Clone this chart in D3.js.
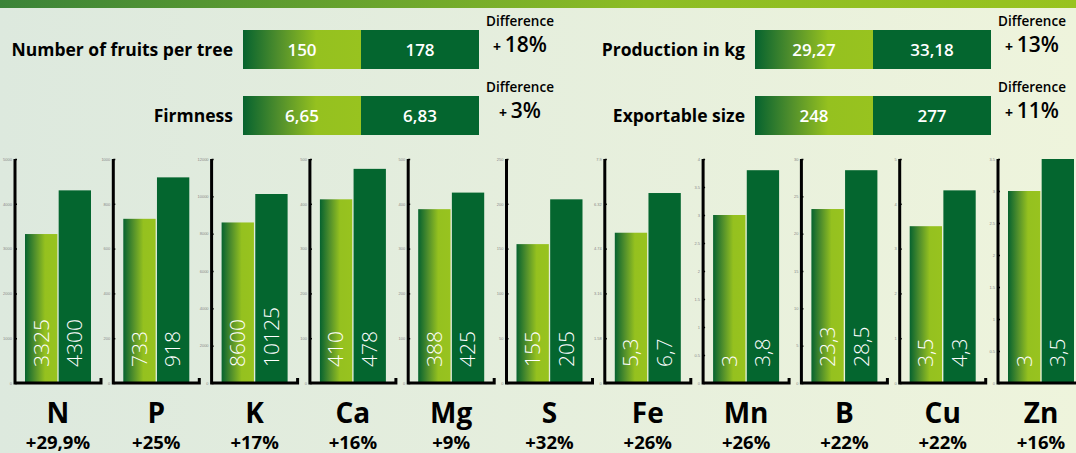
<!DOCTYPE html>
<html>
<head>
<meta charset="utf-8">
<script src="https://cdn.jsdelivr.net/npm/d3@7"></script>
<style>
  body { margin: 0; overflow: hidden; }
  svg { display: block; font-family: "Open Sans", "DejaVu Sans", sans-serif; }
</style>
</head>
<body>
<div id="chart"></div>
<script>
var width = 1076;
var height = 453;
var lightGreen = '#95c11f';
var darkGreen = '#04662f';

// top summary boxes
var topLabels = ['Number of fruits per tree', 'Firmness', 'Production in kg', 'Exportable size'];
var topBefore = ['150', '6,65', '29,27', '248'];
var topAfter = ['178', '6,83', '33,18', '277'];
var topDiff = ['18%', '3%', '13%', '11%'];

// nutrient panels
var elements = ['N', 'P', 'K', 'Ca', 'Mg', 'S', 'Fe', 'Mn', 'B', 'Cu', 'Zn'];
var before = [3325, 733, 8600, 410, 388, 155, 5.3, 3, 23.3, 3.5, 3];
var after = [4300, 918, 10125, 478, 425, 205, 6.7, 3.8, 28.5, 4.3, 3.5];
var beforeLabels = ['3325', '733', '8600', '410', '388', '155', '5,3', '3', '23,3', '3,5', '3'];
var afterLabels = ['4300', '918', '10125', '478', '425', '205', '6,7', '3,8', '28,5', '4,3', '3,5'];
var diffs = ['+29,9%', '+25%', '+17%', '+16%', '+9%', '+32%', '+26%', '+26%', '+22%', '+22%', '+16%'];
var axisMax = [5000, 1000, 12000, 500, 500, 250, 7.9, 4, 30, 5, 3.5];
var tickCount = [5, 5, 6, 5, 5, 5, 5, 8, 6, 5, 7];

var svg = d3.select('#chart').append('svg')
      .attr('width', width)
      .attr('height', height);

var defs = svg.append('defs');
var bg = defs.append('linearGradient').attr('id', 'bg');
bg.append('stop').attr('offset', 0).attr('stop-color', '#dde9de');
bg.append('stop').attr('offset', 1).attr('stop-color', '#eef4dc');

var band = defs.append('linearGradient').attr('id', 'band');
band.append('stop').attr('offset', 0).attr('stop-color', '#3a8338');
band.append('stop').attr('offset', 0.6).attr('stop-color', '#8dbd25');
band.append('stop').attr('offset', 1).attr('stop-color', '#98c31f');

var fade = defs.append('linearGradient').attr('id', 'fade');
fade.append('stop').attr('offset', 0).attr('stop-color', '#06632f');
fade.append('stop').attr('offset', 0.3).attr('stop-color', '#4f8e2c');
fade.append('stop').attr('offset', 0.62).attr('stop-color', lightGreen);
fade.append('stop').attr('offset', 1).attr('stop-color', '#98c31f');

svg.append('rect').attr('width', width).attr('height', height).attr('fill', 'url(#bg)');
svg.append('rect').attr('width', width).attr('height', 8).attr('fill', 'url(#band)');

// top boxes: two columns, two rows
var colX = [243, 755];
var rowY = [30, 96];
var boxW = 236, boxH = 39;
var halves = d3.scaleBand().domain(['before', 'after']).range([0, boxW]);

topLabels.forEach(function(label, i) {
      var col = i < 2 ? 0 : 1;
      var row = i % 2;
      var g = svg.append('g')
            .attr('transform', 'translate(' + colX[col] + ',' + rowY[row] + ')');

      g.append('text')
            .attr('x', -10)
            .attr('y', boxH / 2 + 6)
            .style('text-anchor', 'end')
            .style('font-size', '17.5px')
            .style('font-weight', 'bold')
            .text(label);

      g.append('rect')
            .attr('x', halves('before'))
            .attr('width', halves.bandwidth())
            .attr('height', boxH)
            .attr('fill', 'url(#fade)');
      g.append('rect')
            .attr('x', halves('after'))
            .attr('width', halves.bandwidth())
            .attr('height', boxH)
            .attr('fill', darkGreen);

      [['before', topBefore[i]], ['after', topAfter[i]]].forEach(function(p) {
            g.append('text')
                  .attr('x', halves(p[0]) + halves.bandwidth() / 2)
                  .attr('y', boxH / 2 + 6)
                  .style('text-anchor', 'middle')
                  .style('font-size', '17px')
                  .style('font-weight', '600')
                  .style('fill', '#fff')
                  .text(p[1]);
      });

      var dx = boxW + 41;
      g.append('text')
            .attr('x', dx)
            .attr('y', -4)
            .style('text-anchor', 'middle')
            .style('font-size', '13.5px')
            .style('font-weight', '600')
            .text('Difference');
      var pct = g.append('text')
            .attr('x', dx)
            .attr('y', 22)
            .style('text-anchor', 'middle')
            .style('font-weight', '600');
      pct.append('tspan').style('font-size', '14px').style('font-weight', 'bold').text('+ ');
      pct.append('tspan').style('font-size', '21px').text(topDiff[i]);
});

// nutrient panels
var baseY = 383, topY = 159;
var pitch = 98.3, firstAxis = 15;

elements.forEach(function(el, i) {
      var ax = firstAxis + i * pitch;
      var g = svg.append('g').attr('transform', 'translate(' + ax + ',0)');

      var y = d3.scaleLinear().domain([0, axisMax[i]]).range([baseY, topY]);
      var x = d3.scaleBand().domain(['before', 'after']).range([10, 76]).paddingInner(0.04);

      var tickVals = d3.range(tickCount[i] + 1).map(function(k) { return k * axisMax[i] / tickCount[i]; });
      var yAxis = d3.axisLeft(y)
            .tickValues(tickVals)
            .tickSize(2)
            .tickPadding(1)
            .tickFormat(d3.format('~g'));
      var axisG = g.append('g').call(yAxis);
      axisG.select('.domain').remove();
      axisG.selectAll('text').style('font-size', '4px').style('fill', '#888');
      axisG.selectAll('line').attr('x2', 2).attr('stroke', '#000').attr('stroke-width', 1.5);

      g.append('rect')
            .attr('x', x('before'))
            .attr('y', y(before[i]))
            .attr('width', x.bandwidth())
            .attr('height', baseY - y(before[i]))
            .attr('fill', 'url(#fade)');
      g.append('rect')
            .attr('x', x('after'))
            .attr('y', y(after[i]))
            .attr('width', x.bandwidth())
            .attr('height', baseY - y(after[i]))
            .attr('fill', darkGreen);

      // axis frame
      g.append('path')
            .attr('d', 'M0,' + topY + 'V' + baseY + 'H86V' + (baseY - 5))
            .attr('fill', 'none')
            .attr('stroke', '#000')
            .attr('stroke-width', 3);

      [['before', beforeLabels[i]], ['after', afterLabels[i]]].forEach(function(p) {
            var cx = x(p[0]) + x.bandwidth() / 2;
            g.append('text')
                  .attr('transform', 'translate(' + cx + ',' + (baseY - 16) + ') rotate(-90)')
                  .attr('dy', '0.35em')
                  .style('font-size', '21px')
                  .style('font-weight', '300')
                  .style('fill', '#fff')
                  .text(p[1]);
      });

      g.append('text')
            .attr('x', 43)
            .attr('y', 423)
            .style('text-anchor', 'middle')
            .style('font-size', '28px')
            .style('font-weight', 'bold')
            .text(el);
      g.append('text')
            .attr('x', 43)
            .attr('y', 449)
            .style('text-anchor', 'middle')
            .style('font-size', '18.5px')
            .style('font-weight', 'bold')
            .text(diffs[i]);
});
</script>
</body>
</html>
